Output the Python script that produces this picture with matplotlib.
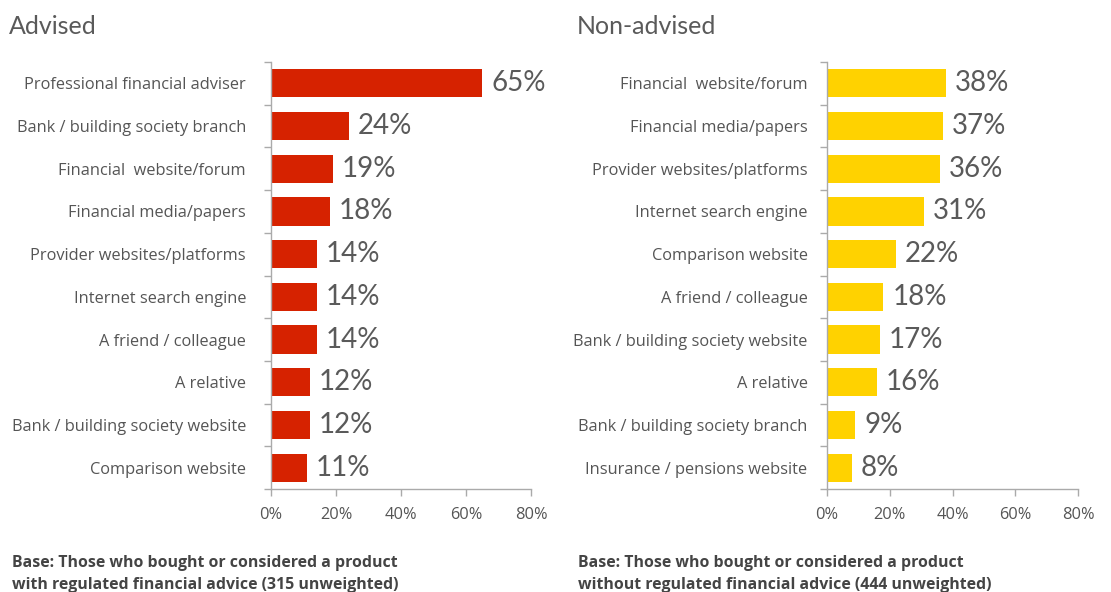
import matplotlib
matplotlib.use("Agg")
import matplotlib.pyplot as plt
from matplotlib.ticker import FuncFormatter

advised_labels = [
    "Professional financial adviser",
    "Bank / building society branch",
    "Financial  website/forum",
    "Financial media/papers",
    "Provider websites/platforms",
    "Internet search engine",
    "A friend / colleague",
    "A relative",
    "Bank / building society website",
    "Comparison website",
]
advised_values = [65, 24, 19, 18, 14, 14, 14, 12, 12, 11]

nonadvised_labels = [
    "Financial  website/forum",
    "Financial media/papers",
    "Provider websites/platforms",
    "Internet search engine",
    "Comparison website",
    "A friend / colleague",
    "Bank / building society website",
    "A relative",
    "Bank / building society branch",
    "Insurance / pensions website",
]
nonadvised_values = [38, 37, 36, 31, 22, 18, 17, 16, 9, 8]

x_ticks = [0, 20, 40, 60, 80]

TEXT = "#555555"
AXIS = "#aaaaaa"

fig = plt.figure(figsize=(11.11, 5.92), dpi=100)
fig.patch.set_facecolor("white")

H = 592.0
W = 1111.0


def panel(left_px, right_px, labels, values, color, title, title_x, base, base_x,
          label_pad):
    top_px, bottom_px = 62, 489
    ax = fig.add_axes([left_px / W, 1 - bottom_px / H,
                       (right_px - left_px) / W, (bottom_px - top_px) / H])
    n = len(values)
    pos = list(range(n))
    ax.barh(pos, values, height=0.66, color=color, zorder=2)
    ax.set_ylim(n - 0.5, -0.5)
    ax.set_xlim(0, 80)
    ax.set_xticks(x_ticks)
    ax.xaxis.set_major_formatter(FuncFormatter(lambda v, p: f"{v:.0f}%"))
    # category boundaries as minor ticks on the spine, labels at bar centres
    ax.set_yticks(pos)
    ax.set_yticklabels(labels)
    ax.set_yticks([p - 0.5 for p in range(n + 1)], minor=True)
    ax.tick_params(axis="y", which="major", length=0, pad=label_pad,
                   labelsize=11.8, labelcolor=TEXT)
    ax.tick_params(axis="y", which="minor", length=5, color=AXIS, width=1)
    ax.tick_params(axis="x", length=5, color=AXIS, width=1, pad=8,
                   labelsize=11.8, labelcolor=TEXT)
    for s in ("top", "right"):
        ax.spines[s].set_visible(False)
    for s in ("left", "bottom"):
        ax.spines[s].set_color(AXIS)
        ax.spines[s].set_linewidth(1)
    for lab in ax.get_yticklabels() + ax.get_xticklabels():
        lab.set_family("Open Sans")
    for p, v in zip(pos, values):
        ax.text(v + 2.8, p, f"{v}%", va="center", ha="left",
                fontsize=20, color="#5a5a5a", family="Lato", fontweight="normal")
    fig.text(title_x / W, 1 - 27 / H, title, fontsize=18, color="#5a5a5a",
             family="Lato", fontweight="normal", va="center", ha="left")
    fig.text(base_x / W, 1 - 574 / H, base, fontsize=11.4, color="#444444",
             family="Open Sans", fontweight="bold", va="center", ha="left",
             linespacing=1.5)
    return ax


panel(271, 531, advised_labels, advised_values, "#d62200", "Advised", 9,
      "Base: Those who bought or considered a product\n"
      "with regulated financial advice (315 unweighted)", 12, 18)
panel(827, 1078, nonadvised_labels, nonadvised_values, "#ffd200", "Non-advised", 577,
      "Base: Those who bought or considered a product\n"
      "without regulated financial advice (444 unweighted)", 578, 14)

fig.savefig("out.png", dpi=100, facecolor="white")
